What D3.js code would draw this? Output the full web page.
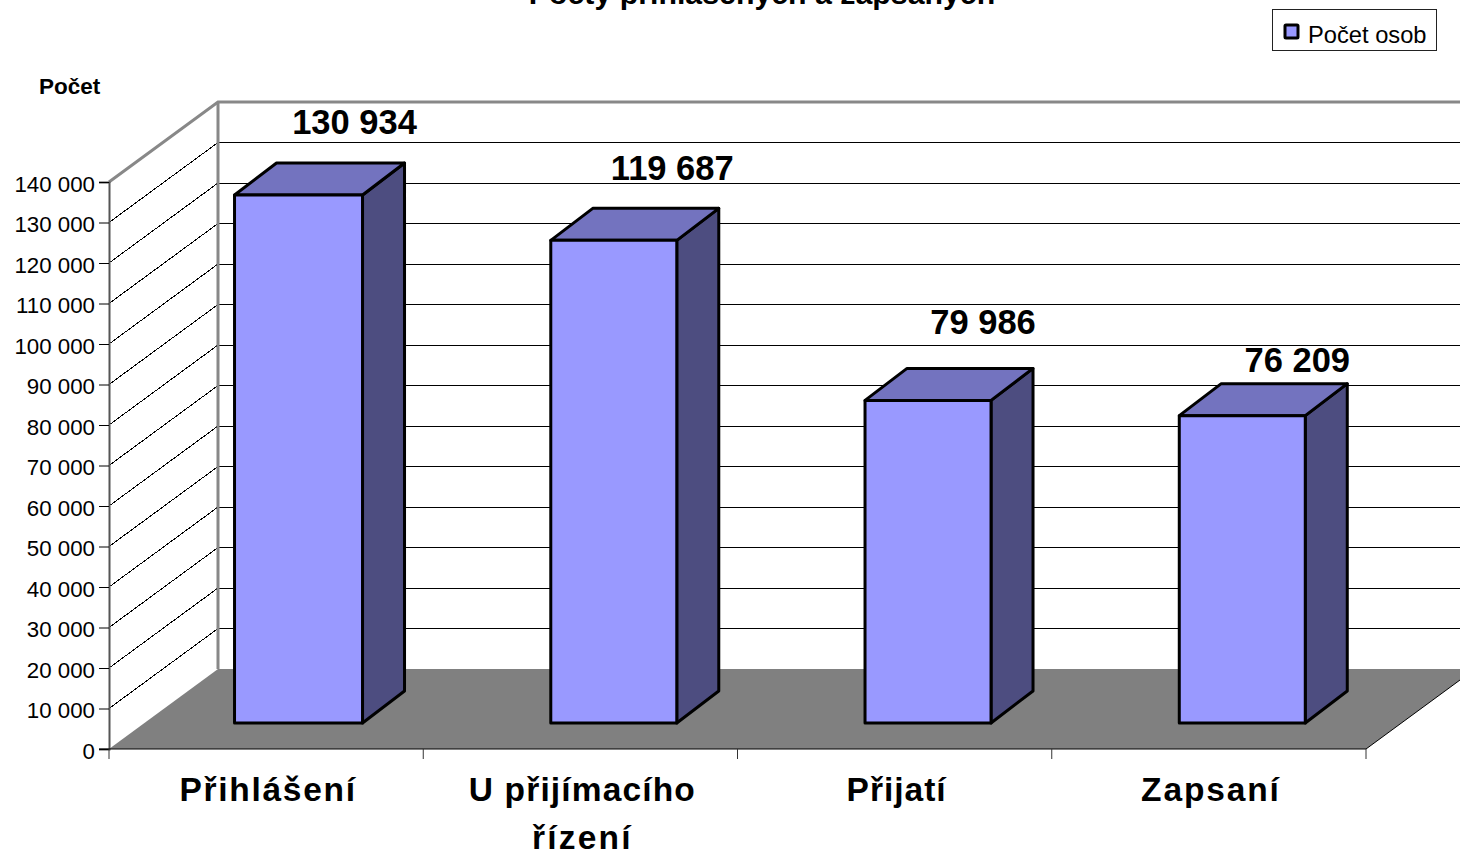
<!DOCTYPE html>
<html>
<head>
<meta charset="utf-8">
<script src="https://cdn.jsdelivr.net/npm/d3@7"></script>
<style>
  html, body { margin: 0; padding: 0; background: #fff; overflow: hidden; }
  text { font-family: "Liberation Sans", Arial, sans-serif; fill: #000; }
</style>
</head>
<body>
<svg id="mainsvg" width="1460" height="854"></svg>
<script>
const categories = ['Přihlášení', 'U přijímacího řízení', 'Přijatí', 'Zapsaní'];
const values = [130934, 119687, 79986, 76209];
const yTicks = [0, 10000, 20000, 30000, 40000, 50000, 60000, 70000, 80000, 90000, 100000, 110000, 120000, 130000, 140000];
const titleText = 'Počty přihlášených a zapsaných';
const yTitle = 'Počet';
const seriesName = 'Počet osob';

const svg = d3.select('#mainsvg');
const plotLeft = 109, plotRight = 1366, plotBottom = 749, plotTop = 182;
// depth of the 3d box
const depthX = 109, depthY = -80;
const barBase = 723, barDepthX = 42, barDepthY = -32, barInset = 33.4;
// rounding and hand moved labels in the original
const barWidths = [128, 126, 126, 126];
const barNudge = [-1, 0, 0, 0];
const labelDx = [55, 58.5, 55, 55];
const labelDy = [-61, -60, -66, -44];
const labelSpacing = { 'Přihlášení': 1.7, 'U přijímacího': 1.15, 'řízení': 2.2, 'Přijatí': 1, 'Zapsaní': 1.85 };

const x = d3.scaleBand().domain(categories).range([plotLeft, plotRight]);
const y = d3.scaleLinear().domain([0, 140000]).range([plotBottom, plotTop]);
// bars stand further in, so their scale is a bit shorter than the front axis
const yBar = d3.scaleLinear().domain([0, 140000]).range([barBase, barBase - 564.6]);
const fmt = d3.formatLocale({ decimal: ',', thousands: ' ', grouping: [3], currency: ['', ''] }).format(',d');
const pts = a => a.map(p => p.join(',')).join(' ');

// floor
svg.append('polygon')
  .attr('points', pts([[plotLeft, plotBottom], [plotLeft + depthX, plotBottom + depthY], [plotRight + depthX, plotBottom + depthY], [plotRight, plotBottom]]))
  .attr('fill', '#808080');
svg.append('line')
  .attr('x1', plotRight).attr('y1', plotBottom).attr('x2', plotRight + depthX).attr('y2', plotBottom + depthY)
  .attr('stroke', '#000').attr('stroke-width', 1);

// grid on side and back wall
svg.append('g').selectAll('polyline')
  .data(yTicks.filter(d => d > 0 && d < 140000))
  .join('polyline')
  .attr('points', d => pts([[plotLeft, y(d)], [plotLeft + depthX, y(d) + depthY], [plotRight + depthX, y(d) + depthY]]))
  .attr('fill', 'none').attr('stroke', '#000').attr('stroke-width', 1)
  .attr('shape-rendering', 'crispEdges');
svg.append('polyline')
  .attr('points', pts([[plotLeft, y(140000)], [plotLeft + depthX, y(140000) + depthY], [plotRight + depthX, y(140000) + depthY]]))
  .attr('fill', 'none').attr('stroke', '#888').attr('stroke-width', 3);
svg.append('line')
  .attr('x1', plotLeft + depthX).attr('x2', plotLeft + depthX)
  .attr('y1', y(140000) + depthY).attr('y2', plotBottom + depthY)
  .attr('stroke', '#888').attr('stroke-width', 3);

// bars
const bars = svg.append('g').selectAll('g').data(categories).join('g');
const bx = (c, i) => x(c) + x.bandwidth() / 2 - barWidths[i] / 2 + barInset + barNudge[i];
const side = (c, i) => {
  const x0 = bx(c, i) + barWidths[i], y1 = yBar(values[i]);
  return pts([[x0, barBase], [x0 + barDepthX, barBase + barDepthY], [x0 + barDepthX, y1 + barDepthY], [x0, y1]]);
};
const topFace = (c, i) => {
  const x0 = bx(c, i), y1 = yBar(values[i]);
  return pts([[x0, y1], [x0 + barDepthX, y1 + barDepthY], [x0 + barDepthX + barWidths[i], y1 + barDepthY], [x0 + barWidths[i], y1]]);
};
bars.append('polygon').attr('points', side).attr('fill', '#4D4D80');
bars.append('polygon').attr('points', topFace).attr('fill', '#7373BF');
bars.append('rect')
  .attr('x', bx)
  .attr('y', (c, i) => yBar(values[i]))
  .attr('width', (c, i) => barWidths[i])
  .attr('height', (c, i) => barBase - yBar(values[i]))
  .attr('fill', '#9999FF');
bars.selectAll('polygon, rect')
  .attr('stroke', '#000').attr('stroke-width', 3).attr('stroke-linejoin', 'round');

// value labels
svg.append('g').selectAll('text').data(categories).join('text')
  .attr('x', (c, i) => x(c) + x.bandwidth() / 2 + barInset + labelDx[i])
  .attr('y', (c, i) => yBar(values[i]) + labelDy[i])
  .attr('text-anchor', 'middle')
  .attr('font-size', 34.5).attr('font-weight', 'bold')
  .text((c, i) => fmt(values[i]));

// y axis
const yAxis = svg.append('g')
  .attr('transform', `translate(${plotLeft},0)`)
  .call(d3.axisLeft(y).tickValues(yTicks).tickFormat(fmt).tickSize(10).tickPadding(4));
yAxis.select('.domain').attr('stroke', '#555').attr('stroke-width', 2);
yAxis.selectAll('.tick line').attr('stroke', '#000').attr('stroke-width', 1);
yAxis.selectAll('text').attr('font-size', 22.3).attr('y', 2)
  .attr('font-family', '"Liberation Sans", Arial, sans-serif');

// x axis, labels from the band scale
const xAxis = svg.append('g')
  .attr('transform', `translate(0,${plotBottom})`)
  .call(d3.axisBottom(x).tickSize(0).tickPadding(0));
xAxis.select('.domain').remove();
xAxis.selectAll('.tick text').each(function (c) {
  const words = c === 'U přijímacího řízení' ? ['U přijímacího', 'řízení'] : [c];
  const t = d3.select(this).text(null)
    .attr('font-size', 33.5).attr('font-weight', 'bold')
    .attr('font-family', '"Liberation Sans", Arial, sans-serif')
    .attr('y', 0).attr('dy', null);
  words.forEach((w, i) => t.append('tspan')
    .attr('x', 2).attr('y', 52 + i * 47.5)
    .attr('letter-spacing', labelSpacing[w])
    .text(w));
});
svg.append('line')
  .attr('x1', plotLeft - 10).attr('x2', plotRight).attr('y1', plotBottom).attr('y2', plotBottom)
  .attr('stroke', '#000').attr('stroke-width', 1);
svg.append('g').selectAll('line')
  .data(categories.map(c => x(c)).concat(plotRight))
  .join('line')
  .attr('x1', d => d).attr('x2', d => d)
  .attr('y1', plotBottom).attr('y2', plotBottom + 10)
  .attr('stroke', '#333').attr('stroke-width', 1);

// titles
svg.append('text').attr('x', 762).attr('y', 4).attr('text-anchor', 'middle')
  .attr('font-size', 30.3).attr('font-weight', 'bold').text(titleText);
svg.append('text').attr('x', 39).attr('y', 94)
  .attr('font-size', 22.5).attr('font-weight', 'bold').text(yTitle);

// legend
svg.append('rect').attr('x', 1272.5).attr('y', 9.5).attr('width', 164).attr('height', 41)
  .attr('fill', '#fff').attr('stroke', '#222').attr('stroke-width', 1);
svg.append('rect').attr('x', 1285).attr('y', 25).attr('width', 13).attr('height', 13).attr('rx', 1)
  .attr('fill', '#9999FF').attr('stroke', '#000').attr('stroke-width', 3);
svg.append('text').attr('x', 1308).attr('y', 43).attr('font-size', 23.7).text(seriesName);
</script>
</body>
</html>
